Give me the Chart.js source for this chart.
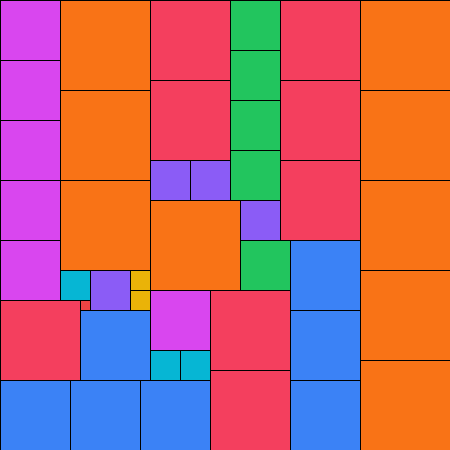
<!DOCTYPE html>
<html>
<head>
<meta charset="utf-8">
<script src="https://cdn.jsdelivr.net/npm/chart.js@4/dist/chart.umd.min.js"></script>
<style>
  html, body { margin: 0; padding: 0; background: #fff; }
  #wrap { width: 450px; height: 450px; }
</style>
</head>
<body>
<div id="wrap"><canvas id="c"></canvas></div>
<script>
// 1 square of side 1, 2 of side 2 ... 9 of side 9, packed into a 45 x 45 grid
const sides = [9, 8, 7, 6, 5, 4, 3, 2, 1];
const colors = ['#f97316', '#f43f5e', '#3b82f6', '#d946ef', '#22c55e', '#8b5cf6', '#06b6d4', '#eab308', '#ef4444'];

// top-left corner of each square, in grid units [col, row]
const corners9 = [[6, 0], [6, 9], [6, 18], [15, 20], [36, 0], [36, 9], [36, 18], [36, 27], [36, 36]];
const corners8 = [[15, 0], [15, 8], [28, 0], [28, 8], [28, 16], [0, 30], [21, 29], [21, 37]];
const corners7 = [[29, 24], [29, 31], [29, 38], [8, 31], [0, 38], [7, 38], [14, 38]];
const corners6 = [[0, 0], [0, 6], [0, 12], [0, 18], [0, 24], [15, 29]];
const corners5 = [[23, 0], [23, 5], [23, 10], [23, 15], [24, 24]];
const corners4 = [[15, 16], [19, 16], [24, 20], [9, 27]];
const corners3 = [[6, 27], [15, 35], [18, 35]];
const corners2 = [[13, 27], [13, 29]];
const corners1 = [[8, 30]];

const corners = [corners9, corners8, corners7, corners6, corners5, corners4, corners3, corners2, corners1];
const GRID = 45;

const datasets = sides.map((s, i) => ({
  label: `${s}×${s}`,
  side: s,
  data: corners[i].map(([x, y]) => ({ x, y })),
  backgroundColor: colors[i],
  pointRadius: 0,
  pointHoverRadius: 0,
}));

// draws each point as a square of its dataset's side, through the x / y scales
const squares = {
  id: 'squares',
  afterDatasetsDraw(chart) {
    const { ctx, scales: { x, y } } = chart;
    ctx.save();
    ctx.lineWidth = 1;
    ctx.strokeStyle = '#000';
    chart.data.datasets.forEach((ds) => {
      ds.data.forEach((p) => {
        const x0 = Math.round(x.getPixelForValue(p.x));
        const x1 = Math.round(x.getPixelForValue(p.x + ds.side));
        const y0 = Math.round(y.getPixelForValue(p.y));
        const y1 = Math.round(y.getPixelForValue(p.y + ds.side));
        ctx.fillStyle = ds.backgroundColor;
        ctx.fillRect(x0, y0, x1 - x0, y1 - y0);
        ctx.strokeRect(x0 + 0.5, y0 + 0.5, x1 - x0, y1 - y0);
      });
    });
    ctx.restore();
  },
};

new Chart(document.getElementById('c'), {
  type: 'scatter',
  data: { datasets },
  options: {
    responsive: true,
    maintainAspectRatio: false,
    animation: false,
    layout: { padding: 0 },
    plugins: { legend: { display: false }, tooltip: { enabled: false } },
    scales: {
      x: { type: 'linear', min: 0, max: GRID, display: false },
      y: { type: 'linear', min: 0, max: GRID, reverse: true, display: false },
    },
  },
  plugins: [squares],
});
</script>
</body>
</html>
